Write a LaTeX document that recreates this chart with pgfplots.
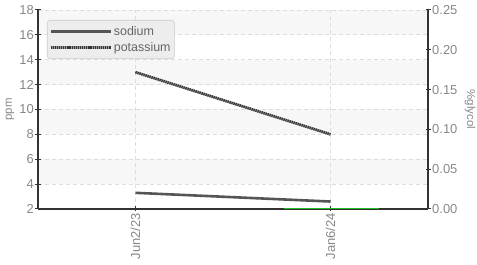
\documentclass[border=0pt]{standalone}
\usepackage{fontspec}
\setmainfont{Liberation Sans}
\usepackage{pgfplots}
\pgfplotsset{compat=1.18}
\definecolor{tickgray}{HTML}{888888}
\definecolor{axisc}{HTML}{333333}
\definecolor{gridc}{HTML}{DDDDDD}
\definecolor{bandc}{HTML}{F7F7F7}
\definecolor{sodc}{HTML}{555555}
\definecolor{potc}{HTML}{333333}
\definecolor{potbase}{HTML}{9A9A9A}
\definecolor{legfill}{HTML}{EDEDED}
\definecolor{legdraw}{HTML}{CCCCCC}
\definecolor{legtext}{HTML}{666666}
\definecolor{greenc}{HTML}{22BB22}
\tikzset{
  lblfont/.style={font=\fontsize{13}{13}\selectfont, text=tickgray},
}
\begin{document}
\begin{tikzpicture}
\begin{axis}[
  set layers,
  at={(38bp,56bp)}, anchor=south west,
  width=390bp, height=199bp, scale only axis,
  xmin=-0.5, xmax=1.5, ymin=2, ymax=18,
  xtick={0,1}, xticklabels={Jun2/23,Jan6/24},
  ytick={2,4,6,8,10,12,14,16,18},
  axis x line*=bottom, axis y line*=left,
  axis line style={color=axisc, line width=1.2bp, -},
  tick align=center, major tick length=5bp,
  tick style={color=axisc, line width=1bp},
  grid=major, major grid style={dash pattern=on 4bp off 3bp, color=gridc, line width=0.8bp},
  ticklabel style={lblfont, inner sep=1.5bp},
  x tick label style={rotate=90, anchor=east},
  /pgf/number format/assume math mode=true,
  ylabel={ppm},
  ylabel style={lblfont, font=\fontsize{11.5}{11.5}\selectfont, at={(axis description cs:-0.072,0.5)}, anchor=center},
  legend cell align=left,
  legend style={at={(axis description cs:0.023,0.95)}, anchor=north west,
    fill=legfill, draw=legdraw, rounded corners=3pt, line width=0.6bp,
    font=\fontsize{12.5}{12.5}\selectfont, text=legtext,
    inner xsep=2bp, inner ysep=4bp, row sep=1.5bp},
  legend image code/.code={\draw[#1] (0bp,0bp) -- (60bp,0bp);},
]
\begin{pgfonlayer}{axis background}
\fill[bandc] (axis cs:-0.5,4) rectangle (axis cs:1.5,6);
\fill[bandc] (axis cs:-0.5,8) rectangle (axis cs:1.5,10);
\fill[bandc] (axis cs:-0.5,12) rectangle (axis cs:1.5,14);
\fill[bandc] (axis cs:-0.5,16) rectangle (axis cs:1.5,18);
\end{pgfonlayer}
\addplot[color=sodc, line width=2.6bp] coordinates {(0,3.3) (1,2.6)};
\addlegendentry{sodium}
\addplot[color=potbase, line width=2.6bp,
  postaction={draw, color=potc, line width=2.6bp, dash pattern=on 1.2bp off 0.9bp}]
  coordinates {(0,13.0) (1,8.0)};
\addlegendentry{potassium}
\end{axis}
\begin{axis}[
  at={(38bp,56bp)}, anchor=south west,
  width=390bp, height=199bp, scale only axis,
  xmin=-0.5, xmax=1.5, ymin=0, ymax=0.25,
  axis x line=none, axis y line*=right,
  axis line style={color=axisc, line width=1.2bp, -},
  tick align=center, major tick length=5bp,
  tick style={color=axisc, line width=1bp},
  ytick={0,0.05,0.1,0.15,0.2,0.25},
  yticklabel style={lblfont, inner sep=1.5bp, /pgf/number format/.cd, fixed, fixed zerofill, precision=2},
  /pgf/number format/assume math mode=true,
  ylabel={\%glycol},
  ylabel style={lblfont, font=\fontsize{11.5}{11.5}\selectfont, at={(axis description cs:1.108,0.5)}, anchor=center, rotate=-180},
]
\addplot[color=greenc, line width=1.2bp] coordinates {(0.76,0) (1.25,0)};
\end{axis}
\pgfresetboundingbox
\path (0,0) rectangle (477bp,265bp);
\end{tikzpicture}
\end{document}
